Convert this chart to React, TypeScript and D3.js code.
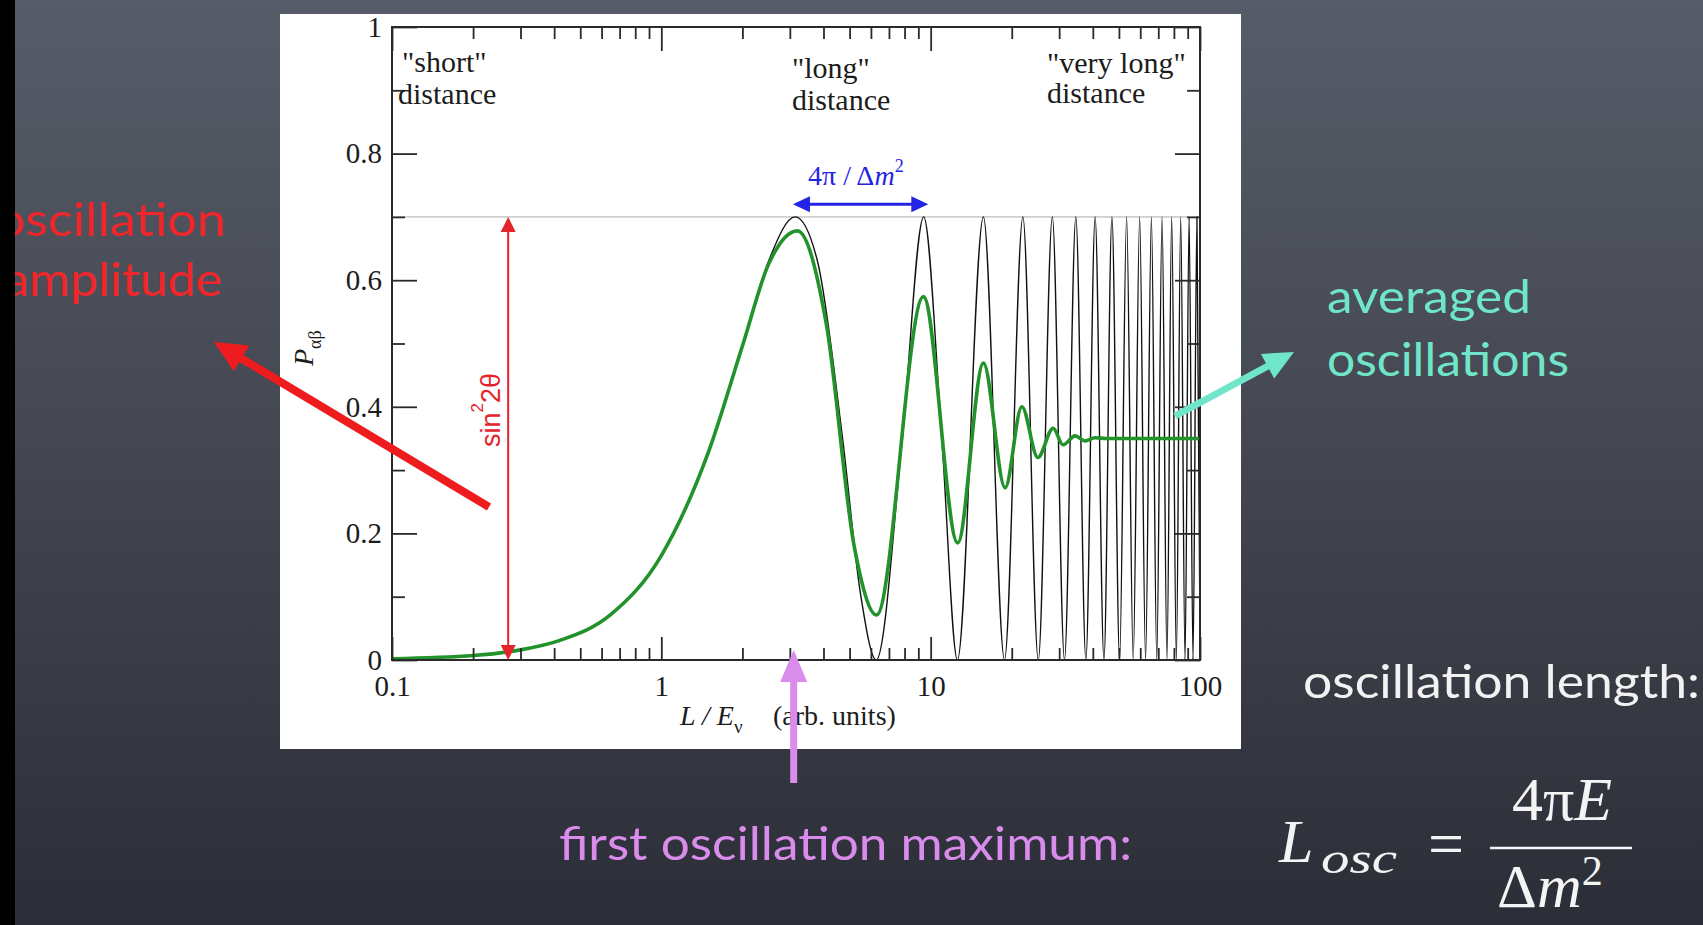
import React, { useRef, useEffect } from 'react';
import * as d3 from 'd3';

// axis ticks
const xMajorTicks = [0.1, 1, 10, 100];
const xMinorTicks = [0.2, 0.3, 0.4, 0.5, 0.6, 0.7, 0.8, 0.9, 2, 3, 4, 5, 6, 7, 8, 9, 20, 30, 40, 50, 60, 70, 80, 90];
const yMajorTicks = [0, 0.2, 0.4, 0.6, 0.8, 1];
const yMinorTicks = [0.1, 0.3, 0.5, 0.7, 0.9];

// black curve (fixed energy)
const blackL = [0.1, 0.2, 0.3, 0.42, 0.65, 1.0, 1.5, 2.0, 2.5, 3.14, 3.8, 4.7, 5.5, 6.28, 7.85, 9.42, 11.0, 12.57,
    15.7, 18.8, 22.0, 25.1, 28.3, 31.4, 34.6, 37.7, 40.8, 44.0, 47.1, 50.3, 53.4, 56.5, 59.7, 62.8,
    66.0, 69.1, 72.3, 75.4, 78.5, 81.7, 84.8, 88.0, 91.1, 94.2, 97.4, 100];
const blackP = [0.002, 0.007, 0.016, 0.031, 0.072, 0.165, 0.33, 0.496, 0.63, 0.7, 0.63, 0.353, 0.102, 0, 0.35, 0.7, 0.35, 0,
    0.7, 0, 0.7, 0, 0.7, 0, 0.7, 0, 0.7, 0, 0.7, 0, 0.7, 0, 0.7, 0,
    0.7, 0, 0.7, 0, 0.7, 0, 0.7, 0, 0.7, 0, 0.7, 0.05];

// green curve (averaged over energy spread)
const greenL = [0.1, 0.2, 0.3, 0.42, 0.65, 1.0, 1.5, 2.0, 2.5, 3.2, 4.1, 5.2, 6.3, 9.4, 12.6, 15.7, 18.9, 21.8, 25.0,
    28.5, 31.0, 34.4, 37.4, 40.8, 45, 100];
const greenP = [0.002, 0.007, 0.016, 0.031, 0.072, 0.165, 0.33, 0.496, 0.625, 0.678, 0.53, 0.18, 0.071, 0.574, 0.185,
    0.469, 0.272, 0.4, 0.32, 0.366, 0.34, 0.354, 0.346, 0.351, 0.35, 0.35];

const serif = '"Liberation Serif", "Times New Roman", serif';
const chalk = 'Lato, "Noto Sans", sans-serif';

function Arrow({ x1, y1, x2, y2, color, w, hl, hw, both = false }: any) {
    const len = Math.hypot(x2 - x1, y2 - y1);
    const ux = (x2 - x1) / len, uy = (y2 - y1) / len;
    const px = -uy, py = ux;
    const head = (tx: number, ty: number, dx: number, dy: number) => {
        const bx = tx - dx * hl, by = ty - dy * hl;
        return `${tx},${ty} ${bx + px * hw / 2},${by + py * hw / 2} ${bx - px * hw / 2},${by - py * hw / 2}`;
    };
    const sx = both ? x1 + ux * (hl - 1) : x1, sy = both ? y1 + uy * (hl - 1) : y1;
    return (
        <g>
            <line x1={sx} y1={sy} x2={x2 - ux * (hl - 1)} y2={y2 - uy * (hl - 1)} stroke={color} strokeWidth={w} />
            <polygon points={head(x2, y2, ux, uy)} fill={color} />
            {both && <polygon points={head(x1, y1, -ux, -uy)} fill={color} />}
        </g>
    );
}

export default function App() {
    const axesRef: { current: SVGGElement | null } = useRef(null);

    const x = d3.scaleLog().domain([0.1, 100]).range([392, 1200]);
    const y = d3.scaleLinear().domain([0, 1]).range([660, 27]);

    const curve: any = d3.line()
        .x((d: any) => x(d[0]))
        .y((d: any) => y(d[1]))
        .curve(d3.curveMonotoneX);

    const blackData = blackL.map((l, i) => [l, blackP[i]]);
    const greenData = greenL.map((l, i) => [l, greenP[i]]);

    useEffect(() => {
        document.body.style.margin = '0';
        document.body.style.overflow = 'hidden';
        const g = d3.select(axesRef.current);
        g.selectAll('*').remove();
        const none = () => '';
        const add = (axis: any, transform: string) => {
            g.append('g')
                .attr('transform', transform)
                .call(axis)
                .call((s: any) => s.select('.domain').remove())
                .attr('font-family', serif)
                .attr('font-size', 29)
                .attr('color', '#1c1c1c');
        };
        add(d3.axisBottom(x).tickValues(xMajorTicks).tickSize(-23).tickPadding(15).tickFormat((d: any) => String(d)), 'translate(0,660)');
        add(d3.axisBottom(x).tickValues(xMinorTicks).tickSize(-12).tickFormat(none), 'translate(0,660)');
        add(d3.axisTop(x).tickValues(xMajorTicks).tickSize(-24).tickFormat(none), 'translate(0,27)');
        add(d3.axisTop(x).tickValues(xMinorTicks).tickSize(-12).tickFormat(none), 'translate(0,27)');
        add(d3.axisLeft(y).tickValues(yMajorTicks).tickSize(-25).tickPadding(10).tickFormat((d: any) => String(d)), 'translate(392,0)');
        add(d3.axisLeft(y).tickValues(yMinorTicks).tickSize(-13).tickFormat(none), 'translate(392,0)');
        add(d3.axisRight(y).tickValues(yMajorTicks).tickSize(-25).tickFormat(none), 'translate(1200,0)');
        add(d3.axisRight(y).tickValues(yMinorTicks).tickSize(-13).tickFormat(none), 'translate(1200,0)');
        g.selectAll('line').attr('stroke-width', 1.8).attr('stroke', '#2a2a2a');
    }, []);

    const xFirst = x(3.1);

    return (
        <svg width={1703} height={925} style={{ display: 'block' }}>
            <defs>
                <linearGradient id="board" x1="0" y1="0" x2="0" y2="1">
                    <stop offset="0" stopColor="#575c69" />
                    <stop offset="0.5" stopColor="#43464f" />
                    <stop offset="1" stopColor="#2b2d37" />
                </linearGradient>
                <clipPath id="panel">
                    <rect x={280} y={14} width={961} height={735} />
                </clipPath>
                <clipPath id="plot">
                    <rect x={392} y={27} width={808} height={633} />
                </clipPath>
            </defs>
            <rect x={0} y={0} width={1703} height={925} fill="url(#board)" />

            {/* white figure panel */}
            <rect x={280} y={14} width={961} height={735} fill="#ffffff" />
            <g clipPath="url(#panel)">
                <line x1={x(0.1)} x2={x(100)} y1={y(0.7)} y2={y(0.7)} stroke="#cfcfcf" strokeWidth={1.6} />
                <g clipPath="url(#plot)">
                    <path d={curve(blackData)} fill="none" stroke="#111" strokeWidth={1.4} />
                    <path d={curve(greenData)} fill="none" stroke="#22922a" strokeWidth={3.6} />
                </g>
                <rect x={392} y={27} width={808} height={633} fill="none" stroke="#2a2a2a" strokeWidth={2} />
                <g ref={axesRef} />

                <g fontFamily={serif} fontSize={30} fill="#1c1c1c">
                    <text x={402} y={72}>"short"</text>
                    <text x={398} y={104}>distance</text>
                    <text x={792} y={78}>"long"</text>
                    <text x={792} y={110}>distance</text>
                    <text x={1047} y={73}>"very long"</text>
                    <text x={1047} y={103}>distance</text>
                </g>

                {/* axis titles */}
                <text x={680} y={725} fontFamily={serif} fontSize={28} fill="#1c1c1c">
                    <tspan fontStyle="italic">L / E</tspan>
                    <tspan dy={8} fontSize={19}>ν</tspan>
                </text>
                <text x={773} y={725} fontFamily={serif} fontSize={28} fill="#1c1c1c">(arb. units)</text>
                <text transform="translate(313,366) rotate(-90)" fontFamily={serif} fontSize={28} fill="#1c1c1c">
                    <tspan fontStyle="italic">P</tspan>
                    <tspan dy={8} fontSize={18}>αβ</tspan>
                </text>

                {/* amplitude arrow */}
                <Arrow x1={x(0.27)} y1={y(0)} x2={x(0.27)} y2={y(0.7)} color="#e3242b" w={2} hl={15} hw={15} both />
                <text transform="translate(500,447) rotate(-90)" fontFamily='"Liberation Sans", Arial, sans-serif' fontSize={27} fill="#e3242b">
                    sin<tspan dy={-17} fontSize={17}>2</tspan><tspan dy={17}>2θ</tspan>
                </text>

                {/* period arrow */}
                <Arrow x1={x(3.08)} y1={y(0.72)} x2={x(9.8)} y2={y(0.72)} color="#2424e6" w={3} hl={17} hw={16} both />
                <text x={808} y={185} fontFamily={serif} fontSize={28} fill="#2424e6">
                    4π / Δ<tspan fontStyle="italic">m</tspan><tspan dy={-13} fontSize={18}>2</tspan>
                </text>
            </g>

            {/* chalkboard annotations */}
            <g fontFamily={chalk} fontSize={46}>
                <text x={-4} y={236} fill="#f0262a" textLength={230} lengthAdjust="spacingAndGlyphs">oscillation</text>
                <text x={4} y={296} fill="#f0262a" textLength={218} lengthAdjust="spacingAndGlyphs">amplitude</text>
                <text x={1327} y={313} fill="#6fe6c9" textLength={204} lengthAdjust="spacingAndGlyphs">averaged</text>
                <text x={1327} y={376} fill="#6fe6c9" textLength={242} lengthAdjust="spacingAndGlyphs">oscillations</text>
                <text x={559} y={860} fill="#d98cec" textLength={573} lengthAdjust="spacingAndGlyphs">first oscillation maximum:</text>
                <text x={1303} y={698} fill="#f2f2f2" textLength={397} lengthAdjust="spacingAndGlyphs">oscillation length:</text>
            </g>
            <Arrow x1={489} y1={507} x2={214} y2={342} color="#ee1c1f" w={8} hl={32} hw={30} />
            <Arrow x1={1175} y1={416} x2={1294} y2={352} color="#6fe6c9" w={7} hl={30} hw={28} />
            <Arrow x1={xFirst} y1={783} x2={xFirst} y2={650} color="#d98cec" w={7} hl={32} hw={27} />

            {/* formula */}
            <g fontFamily={serif} fill="#f4f4f4">
                <text x={1279} y={862} fontSize={62} fontStyle="italic">L</text>
                <text x={1321} y={873} fontSize={44} fontStyle="italic" textLength={76} lengthAdjust="spacingAndGlyphs">osc</text>
                <text x={1428} y={865} fontSize={64}>=</text>
                <line x1={1490} x2={1632} y1={848} y2={848} stroke="#f4f4f4" strokeWidth={2.5} />
                <text x={1562} y={820} fontSize={62} textAnchor="middle">
                    4π<tspan fontStyle="italic">E</tspan>
                </text>
                <text x={1497} y={907} fontSize={62}>
                    Δ<tspan fontStyle="italic">m</tspan><tspan dy={-22} fontSize={42}>2</tspan>
                </text>
            </g>

            <rect x={0} y={0} width={15} height={925} fill="#000" />
        </svg>
    );
}
